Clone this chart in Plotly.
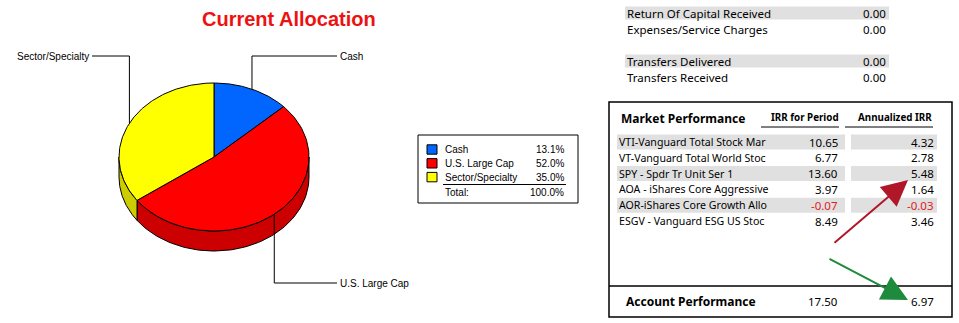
import numpy as np
import plotly.graph_objects as go

# ---------------- data ----------------
alloc_labels = ["Cash", "U.S. Large Cap", "Sector/Specialty"]
alloc_pct = [13.1, 52.0, 35.0]
alloc_colors = ["#0066FF", "#FF0000", "#FFFF00"]
alloc_side_colors = ["#0050CC", "#CC0000", "#CCCC00"]
alloc_total = "100.0%"

summary_labels = ["Return Of Capital Received", "Expenses/Service Charges",
                  "Transfers Delivered", "Transfers Received"]
summary_values = [0.00, 0.00, 0.00, 0.00]

perf_names = ["VTI-Vanguard Total Stock Mar", "VT-Vanguard Total World Stoc",
              "SPY - Spdr Tr Unit Ser 1", "AOA - iShares Core Aggressive",
              "AOR-iShares Core Growth Allo", "ESGV - Vanguard ESG US Stoc"]
irr_period = [10.65, 6.77, 13.60, 3.97, -0.07, 8.49]
irr_annual = [4.32, 2.78, 5.48, 1.64, -0.03, 3.46]
account_label = "Account Performance"
account_period = 17.50
account_annual = 6.97

# ---------------- layout constants ----------------
W, H = 959, 323
CX, CY, RX, RY, DEPTH = 214, 157, 95, 74, 20
ARIAL = "Arial, Liberation Sans, sans-serif"
TAB = "Noto Sans, sans-serif"

fig = go.Figure()
shapes = []
ann = []


def ell(theta_deg, dy=0.0):
    t = np.radians(theta_deg)
    return CX + RX * np.sin(t), CY - RY * np.cos(t) + dy


fracs = np.array(alloc_pct) / np.sum(alloc_pct)
bounds = np.concatenate([[0], np.cumsum(fracs)]) * 360.0

# sides (visible bottom half: theta in [90, 270])
for i in range(len(fracs)):
    a0, a1 = max(bounds[i], 90), min(bounds[i + 1], 270)
    if a1 <= a0:
        continue
    th = np.linspace(a0, a1, 80)
    xt, yt = ell(th)
    xb, yb = ell(th[::-1], DEPTH)
    fig.add_trace(go.Scatter(x=np.concatenate([xt, xb, xt[:1]]),
                             y=np.concatenate([yt, yb, yt[:1]]),
                             mode="lines", fill="toself",
                             fillcolor=alloc_side_colors[i],
                             line=dict(color="black", width=1),
                             hoverinfo="skip", showlegend=False))

# top faces
for i in range(len(fracs)):
    th = np.linspace(bounds[i], bounds[i + 1], 120)
    xs, ys = ell(th)
    fig.add_trace(go.Scatter(x=np.concatenate([[CX], xs, [CX]]),
                             y=np.concatenate([[CY], ys, [CY]]),
                             mode="lines", fill="toself",
                             fillcolor=alloc_colors[i],
                             line=dict(color="black", width=1),
                             hoverinfo="skip", showlegend=False))

# leader lines + labels
label_pos = [(337, 56, "left"), (337, 283, "left"), (92, 56, "right")]
for i in range(len(fracs)):
    mid = (bounds[i] + bounds[i + 1]) / 2
    px, py = ell(mid)
    lx, ly, side = label_pos[i]
    fig.add_trace(go.Scatter(x=[px, px, lx], y=[py, ly, ly], mode="lines",
                             line=dict(color="black", width=1),
                             hoverinfo="skip", showlegend=False))
    ann.append(dict(x=lx + (1 if side == "left" else -1), y=ly, text=alloc_labels[i],
                    xanchor=side, yanchor="middle", showarrow=False,
                    font=dict(family=ARIAL, size=10, color="black")))

# title
ann.append(dict(x=289, y=19, text="<b>Current Allocation</b>", showarrow=False,
                xanchor="center", yanchor="middle",
                font=dict(family=ARIAL, size=20, color="#EE1111")))

# legend box
shapes.append(dict(type="rect", x0=418, x1=578, y0=135, y1=203,
                   line=dict(color="black", width=1), fillcolor="white", layer="below"))
for i in range(len(fracs)):
    yc = 149.5 + i * 13.8
    shapes.append(dict(type="rect", x0=427, x1=437, y0=yc - 4.7, y1=yc + 4.7,
                       line=dict(color="black", width=1), fillcolor=alloc_colors[i]))
    ann.append(dict(x=443, y=yc, text=alloc_labels[i], xanchor="left", yanchor="middle",
                    showarrow=False, font=dict(family=ARIAL, size=10, color="black")))
    ann.append(dict(x=566, y=yc, text=f"{alloc_pct[i]:.1f}%", xanchor="right",
                    yanchor="middle", showarrow=False,
                    font=dict(family=ARIAL, size=10, color="black")))
shapes.append(dict(type="line", x0=443, x1=566, y0=184.5, y1=184.5,
                   line=dict(color="black", width=1)))
ann.append(dict(x=443, y=192, text="Total:", xanchor="left", yanchor="middle",
                showarrow=False, font=dict(family=ARIAL, size=10, color="black")))
ann.append(dict(x=566, y=192, text=alloc_total, xanchor="right", yanchor="middle",
                showarrow=False, font=dict(family=ARIAL, size=10, color="black")))

# summary table
sum_y = [13, 29, 61, 77]
for i, (lab, val) in enumerate(zip(summary_labels, summary_values)):
    if i in (0, 2):
        shapes.append(dict(type="rect", x0=625, x1=889, y0=sum_y[i] - 6.5, y1=sum_y[i] + 6.5,
                           line=dict(width=0), fillcolor="#E0E0E0", layer="below"))
    ann.append(dict(x=625, y=sum_y[i], text=lab, xanchor="left", yanchor="middle",
                    showarrow=False, font=dict(family=TAB, size=11.5, color="black")))
    ann.append(dict(x=888, y=sum_y[i], text=f"{val:.2f}", xanchor="right", yanchor="middle",
                    showarrow=False, font=dict(family=TAB, size=11.5, color="black")))

# market performance box
shapes.append(dict(type="rect", x0=609, x1=952, y0=102, y1=317,
                   line=dict(color="black", width=1.5), fillcolor="rgba(0,0,0,0)"))
shapes.append(dict(type="line", x0=609, x1=952, y0=286, y1=286,
                   line=dict(color="black", width=1.5)))
ann.append(dict(x=619, y=118, text="<b>Market Performance</b>", xanchor="left",
                yanchor="middle", showarrow=False,
                font=dict(family=TAB, size=12, color="black")))
ann.append(dict(x=841, y=117, text="<b>IRR for Period</b>", xanchor="right",
                yanchor="middle", showarrow=False,
                font=dict(family=TAB, size=9.8, color="black")))
ann.append(dict(x=934, y=117, text="<b>Annualized IRR</b>", xanchor="right",
                yanchor="middle", showarrow=False,
                font=dict(family=TAB, size=9.8, color="black")))
shapes.append(dict(type="line", x0=761, x1=839, y0=127, y1=127, line=dict(color="black", width=1)))
shapes.append(dict(type="line", x0=845, x1=933, y0=127, y1=127, line=dict(color="black", width=1)))

for i, name in enumerate(perf_names):
    yc = 142 + i * 15.8
    if i % 2 == 0:
        shapes.append(dict(type="rect", x0=617, x1=845, y0=yc - 7.5, y1=yc + 7.5,
                           line=dict(width=0), fillcolor="#E0E0E0", layer="below"))
        shapes.append(dict(type="rect", x0=851, x1=937, y0=yc - 7.5, y1=yc + 7.5,
                           line=dict(width=0), fillcolor="#E0E0E0", layer="below"))
    ann.append(dict(x=617, y=yc, text=name, xanchor="left", yanchor="middle",
                    showarrow=False, font=dict(family=TAB, size=10.6, color="black")))
    for xv, v in ((840, irr_period[i]), (936, irr_annual[i])):
        ann.append(dict(x=xv, y=yc, text=f"{v:.2f}", xanchor="right", yanchor="middle",
                        showarrow=False,
                        font=dict(family=TAB, size=11.5,
                                  color="#E02020" if v < 0 else "black")))

ann.append(dict(x=624, y=301, text=f"<b>{account_label}</b>", xanchor="left",
                yanchor="middle", showarrow=False,
                font=dict(family=TAB, size=12, color="black")))
ann.append(dict(x=840, y=301, text=f"{account_period:.2f}", xanchor="right",
                yanchor="middle", showarrow=False, font=dict(family=TAB, size=11.5, color="black")))
ann.append(dict(x=936, y=301, text=f"{account_annual:.2f}", xanchor="right",
                yanchor="middle", showarrow=False, font=dict(family=TAB, size=11.5, color="black")))

# arrows
ann.append(dict(x=908, y=180, ax=833, ay=244, axref="x", ayref="y", xref="x", yref="y",
                text="", showarrow=True, arrowhead=2, arrowsize=2.6, arrowwidth=2,
                arrowcolor="#B0182A", standoff=0))
ann.append(dict(x=908, y=300, ax=828, ay=258, axref="x", ayref="y", xref="x", yref="y",
                text="", showarrow=True, arrowhead=2, arrowsize=2.6, arrowwidth=2,
                arrowcolor="#1E8A3C", standoff=0))

fig.update_layout(
    width=W, height=H, margin=dict(l=0, r=0, t=0, b=0),
    paper_bgcolor="white", plot_bgcolor="white",
    xaxis=dict(range=[0, W], visible=False, fixedrange=True),
    yaxis=dict(range=[H, 0], visible=False, fixedrange=True),
    shapes=shapes, annotations=ann, showlegend=False,
)
fig.write_html("out.html")
